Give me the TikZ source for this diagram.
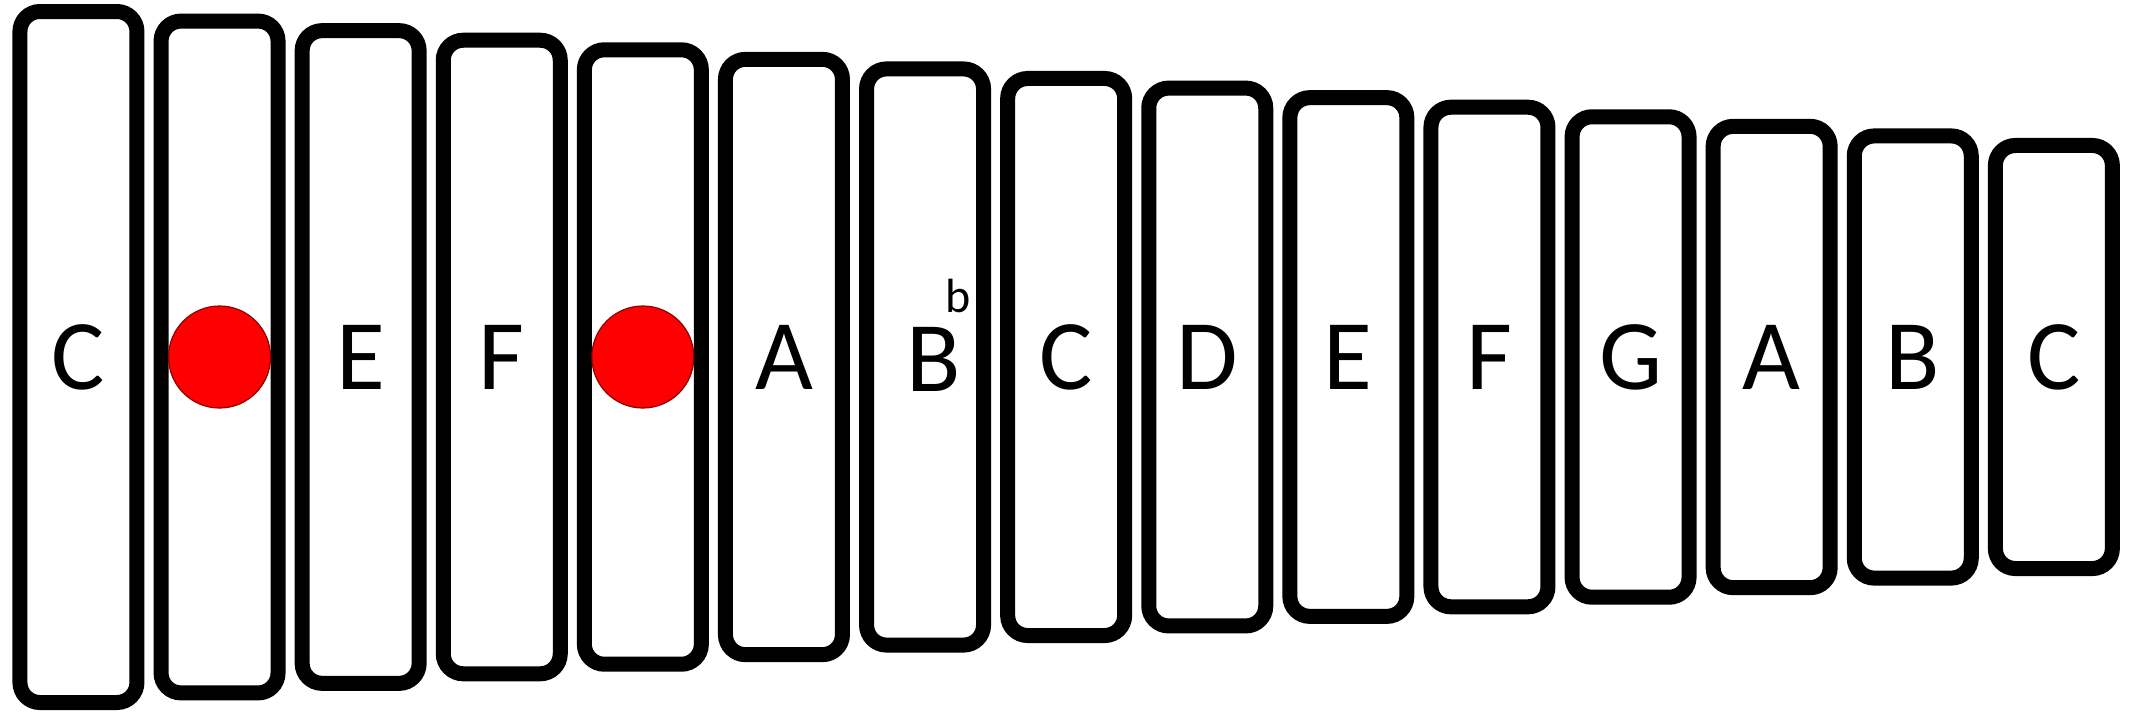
\documentclass[tikz,border=0pt]{standalone}
\usepackage{fontspec}
\setmainfont{Carlito}
\begin{document}
\begin{tikzpicture}[x=0.5pt,y=-0.5pt]
\tikzset{
  barbox/.style={draw=black, line width=7.5pt, rounded corners=10pt, fill=white, inner sep=0pt, minimum width=58.5pt},
  notelabel/.style={font=\fontsize{50}{60}\selectfont, inner sep=0pt},
  flatmark/.style={font=\fontsize{24}{29}\selectfont, inner sep=0pt},
  reddot/.style={circle, fill=red, draw=red!55!black, line width=0.6pt, minimum size=51pt, inner sep=0pt}
}
\useasboundingbox[fill=white] (0,0) rectangle (2130,713);
\foreach \i in {1,...,15}{
  \pgfmathsetmacro{\cx}{12.7+141.1*(\i-1)+65.75}
  \pgfmathsetmacro{\h}{(691-19.14*(\i-1))*0.5}
  \node[barbox, minimum height=\h pt] (bar\i) at (\cx,357) {};
}
\node[notelabel] (lab1) at (bar1.center) {C};
\node[reddot] (dot2) at (bar2.center) {};
\node[notelabel] (lab3) at (bar3.center) {E};
\node[notelabel] (lab4) at (bar4.center) {F};
\node[reddot] (dot5) at (bar5.center) {};
\node[notelabel] (lab6) at (bar6.center) {A};
\node[notelabel] (lab7) at (934,359) {B};
\node[flatmark] (flat7) at (958,296) {b};
\node[notelabel] (lab8) at (bar8.center) {C};
\node[notelabel] (lab9) at (bar9.center) {D};
\node[notelabel] (lab10) at (bar10.center) {E};
\node[notelabel] (lab11) at (bar11.center) {F};
\node[notelabel] (lab12) at (bar12.center) {G};
\node[notelabel] (lab13) at (bar13.center) {A};
\node[notelabel] (lab14) at (bar14.center) {B};
\node[notelabel] (lab15) at (bar15.center) {C};
\end{tikzpicture}
\end{document}
